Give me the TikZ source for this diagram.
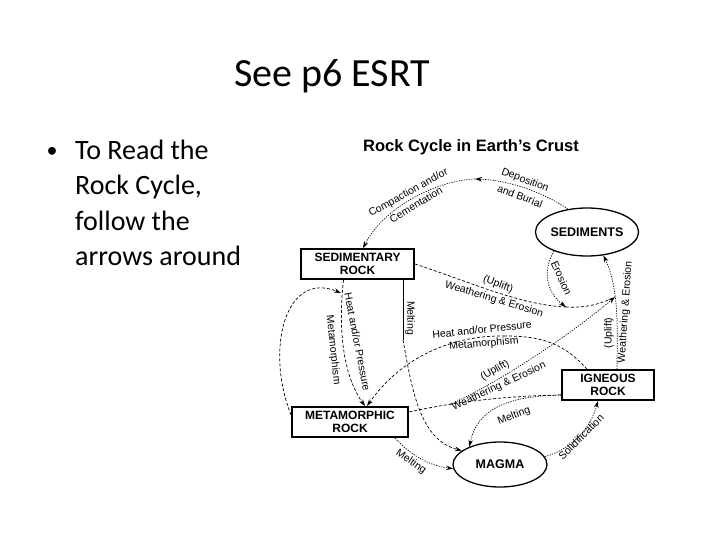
\documentclass[tikz,border=0pt]{standalone}
\usepackage{fontspec}
\setmainfont{Carlito}
\newfontfamily\arial{Liberation Sans}
\usetikzlibrary{arrows.meta,shapes.geometric}
\begin{document}
\begin{tikzpicture}[x=1pt,y=-1pt,
  box/.style={draw, line width=1.8pt, minimum width=#1, minimum height=30pt, inner sep=0pt, align=center, font=\arial\bfseries\fontsize{12}{13}\selectfont},
  ell/.style={draw, ellipse, line width=1.3pt, inner sep=0pt, font=\arial\bfseries\fontsize{12.5}{13}\selectfont},
  lbl/.style={font=\arial\fontsize{10.5}{11}\selectfont, inner sep=0pt},
  dsh/.style={line width=0.7pt, dash pattern=on 3pt off 2pt},
  dtt/.style={line width=0.7pt, dash pattern=on 1.2pt off 1.3pt},
  tip/.style={-{Stealth[length=7pt,width=4.5pt]}},
  slide/.style={anchor=base west, inner sep=0pt, font=\fontsize{28}{34}\selectfont},
]
\useasboundingbox (0,0) rectangle (720,540);
\fill[white] (0,0) rectangle (720,540);

% slide text
\node[anchor=base, inner sep=0pt, font=\fontsize{40}{48}\selectfont] (title) at (332,87) {See p6 ESRT};
\node[anchor=base, inner sep=0pt, font=\fontsize{22}{26}\selectfont] (bul) at (52,158) {•};
\node[slide] (b1) at (75,160) {To Read the};
\node[slide] (b2) at (75,195) {Rock Cycle,};
\node[slide] (b3) at (75,230) {follow the};
\node[slide] (b4) at (75,265) {arrows around};

% diagram title
\node[anchor=base, inner sep=0pt, font=\arial\bfseries\fontsize{16.5}{18}\selectfont] (dtitle) at (471,152) {Rock Cycle in Earth’s Crust};

% nodes
\node[box=113pt] (sedrock) at (357.5,264) {SEDIMENTARY\\ROCK};
\node[box=116pt] (meta) at (350,422) {METAMORPHIC\\ROCK};
\node[box=92pt] (ign) at (608,385) {IGNEOUS\\ROCK};
\node[ell, minimum width=102pt, minimum height=48pt] (sed) at (587,232) {SEDIMENTS};
\node[ell, minimum width=94pt, minimum height=45pt] (magma) at (500,464.5) {MAGMA};

% junction coordinates
\coordinate (top) at (475,179);
\coordinate (ej) at (566,307);
\coordinate (wa) at (615,297);
\coordinate (hp) at (505,336);
\coordinate (j1) at (450,404.5);
\coordinate (m1) at (403,340);
\coordinate (loopend) at (341,293);

% sediments -> sedimentary rock (top arc)
\draw[dtt,tip] (sed.130) .. controls (540,190) and (505,180) .. (top);
\draw[dtt,tip] (top) .. controls (440,180) and (385,205) .. ([xshift=5.5pt]sedrock.north);
\node[lbl, rotate=-21] (lDep) at (525,180.5) {Deposition};
\node[lbl, rotate=-21] (lBur) at (520,196) {and Burial};
\node[lbl, rotate=29] (lCom) at (408.5,193) {Compaction and/or};
\node[lbl, rotate=31] (lCem) at (416,204.5) {Cementation};

% sedimentary rock -> sediments
\draw[dsh] (sedrock.east) .. controls (470,282) and (520,305) .. (ej);
\draw[dsh] (ej) .. controls (585,308) and (598,305) .. (wa);
\node[lbl, rotate=-20] (lUp1) at (498,284.5) {(Uplift)};
\node[lbl, rotate=-17] (lWE1) at (494,299.5) {Weathering \& Erosion};

% erosion loop
\draw[dtt,tip] (sed.210) .. controls (540,275) and (550,295) .. (ej);
\node[lbl, rotate=-65] (lEro) at (561.5,278) {Erosion};

% igneous -> sediments
\draw[dtt,tip] ([xshift=9pt]ign.north) .. controls (617,335) and (620,290) .. (sed.-55);
\node[lbl, rotate=90] (lUp3) at (609,333) {(Uplift)};
\node[lbl, rotate=86] (lWE3) at (625.5,312) {Weathering \& Erosion};

% sedimentary rock -> metamorphic rock
\draw[dsh,tip] ([xshift=-14pt]sedrock.south) .. controls (338,330) and (343,375) .. ([xshift=15pt]meta.north);
\node[lbl, rotate=-79] (lHP1) at (357.5,342) {Heat and/or Pressure};
\node[lbl, rotate=-84] (lMe1) at (333,350) {Metamorphism};

% metamorphic loop
\draw[dsh,tip] ([yshift=7pt]meta.west) .. controls (265,350) and (285,270) .. (loopend);

% sedimentary rock -> magma
\draw[line width=0.7pt] ([xshift=45.5pt]sedrock.south) -- (m1);
\draw[dsh,tip] (m1) .. controls (412,390) and (420,440) .. (magma.160);
\node[lbl, rotate=-90] (lMel1) at (410,318) {Melting};

% igneous -> metamorphic
\draw[dsh] ([xshift=-21pt]ign.north) .. controls (565,345) and (545,336) .. (hp);
\draw[dsh,tip] (hp) .. controls (460,335) and (405,352) .. ([xshift=17pt]meta.north);
\node[lbl, rotate=6] (lHP2) at (482,329.5) {Heat and/or Pressure};
\node[lbl, rotate=5] (lMe2) at (484,344) {Metamorphism};

% igneous -- metamorphic lower line
\draw[dsh] ([yshift=-10pt]ign.west) .. controls (500,396) and (450,403) .. ([yshift=10pt]meta.east);

% metamorphic -> sediments
\draw[dtt,tip] (j1) .. controls (500,382) and (570,335) .. (wa);
\node[lbl, rotate=29] (lUp2) at (495,370.5) {(Uplift)};
\node[lbl, rotate=25] (lWE2) at (499,386.5) {Weathering \& Erosion};

% igneous -> magma
\draw[dtt,tip] ([yshift=-10pt]ign.west) .. controls (515,396) and (478,405) .. (magma.150);
\node[lbl, rotate=20] (lMel3) at (514,416) {Melting};

% metamorphic -> magma
\draw[dtt,tip] ([xshift=45pt]meta.south) .. controls (410,455) and (430,466) .. (magma.185);
\node[lbl, rotate=-34] (lMel2) at (411,462) {Melting};

% magma -> igneous
\draw[dtt,tip] (magma.10) .. controls (570,450) and (590,430) .. ([xshift=-10pt]ign.south);
\node[lbl, rotate=45] (lSol) at (581,437) {Solidification};
\end{tikzpicture}
\end{document}
